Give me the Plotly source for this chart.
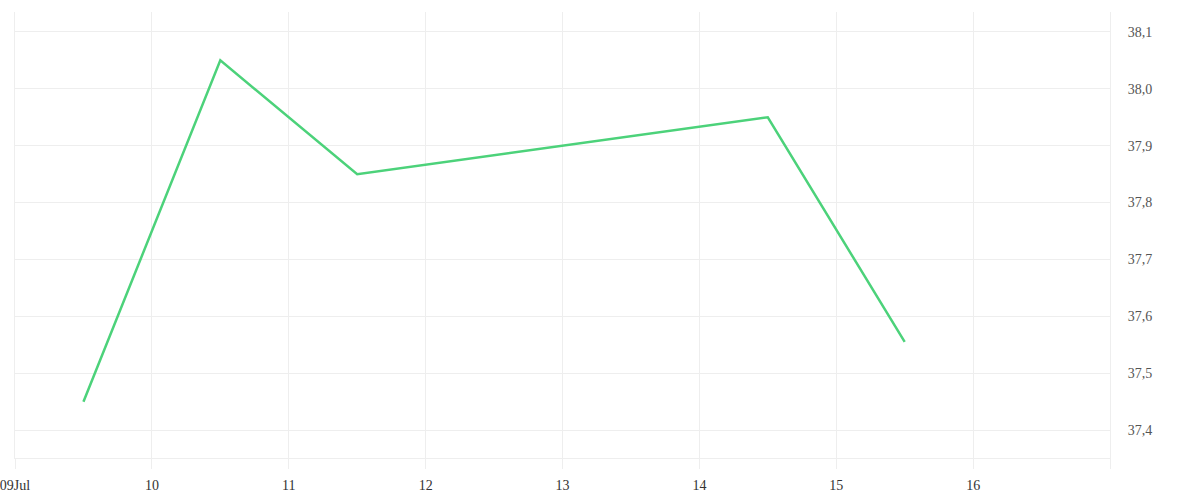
import plotly.graph_objects as go

dates = ["2024-07-09 12:00", "2024-07-10 12:00", "2024-07-11 12:00", "2024-07-14 12:00", "2024-07-15 12:00"]
values = [37.45, 38.05, 37.85, 37.95, 37.555]
tick_dates = ["2024-07-09", "2024-07-10", "2024-07-11", "2024-07-12", "2024-07-13",
              "2024-07-14", "2024-07-15", "2024-07-16", "2024-07-17"]
tick_labels = ["09Jul", "10", "11", "12", "13", "14", "15", "16", ""]
y_ticks = [37.4, 37.5, 37.6, 37.7, 37.8, 37.9, 38.0, 38.1]
y_labels = ["37,4", "37,5", "37,6", "37,7", "37,8", "37,9", "38,0", "38,1"]

fig = go.Figure()
fig.add_trace(go.Scatter(x=dates, y=values, mode="lines",
                         line=dict(color="#4cd27a", width=2.5), hoverinfo="skip"))

fig.update_layout(
    width=1200, height=500,
    margin=dict(l=15, r=90, t=12, b=42, autoexpand=False),
    paper_bgcolor="white", plot_bgcolor="white",
    showlegend=False,
    font=dict(family="Liberation Serif, serif", size=14, color="#444"),
)
fig.update_xaxes(
    type="date", range=["2024-07-09", "2024-07-17"],
    tickvals=tick_dates, ticktext=tick_labels,
    showgrid=True, gridcolor="#eeeeee", gridwidth=1,
    showline=True, linecolor="#eeeeee", linewidth=1,
    ticks="outside", ticklen=10, tickcolor="#eeeeee", tickwidth=1,
    ticklabelstandoff=4, ticklabeloverflow="allow",
    zeroline=False, automargin=False,
    tickfont=dict(family="Liberation Serif, serif", size=14, color="#333"),
)
fig.update_yaxes(
    side="right", range=[37.351, 38.135],
    tickvals=y_ticks, ticktext=y_labels,
    showgrid=True, gridcolor="#eeeeee", gridwidth=1,
    showline=True, mirror=True, linecolor="#eeeeee", linewidth=1,
    ticks="", ticklabelstandoff=14, zeroline=False, automargin=False,
    tickfont=dict(family="Liberation Serif, serif", size=14, color="#555"),
)

fig.write_html("out.html", config={"displayModeBar": False},
               post_script="document.body.style.margin='0';")
